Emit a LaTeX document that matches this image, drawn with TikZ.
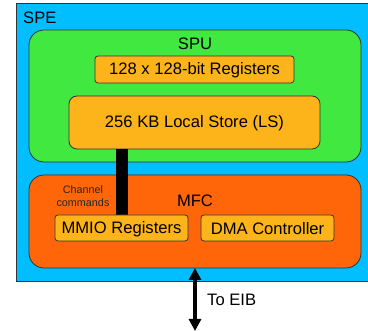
\documentclass[tikz,border=0pt]{standalone}
\usepackage{fontspec}
\setmainfont{Liberation Sans}
\usetikzlibrary{arrows.meta}
\definecolor{speblue}{RGB}{0,190,255}
\definecolor{spugreen}{RGB}{64,232,64}
\definecolor{amber}{RGB}{253,180,26}
\definecolor{mfcorange}{RGB}{255,102,10}
\tikzset{
  bigbox/.style={draw=black!80, line width=0.8pt, rounded corners=15pt},
  smallbox/.style={draw=black!80, line width=0.8pt, fill=amber},
  lbl/.style={font=\fontsize{16.6}{19}\selectfont, inner sep=0pt},
}
\begin{document}
\begin{tikzpicture}[x=1pt,y=-1pt]
\useasboundingbox (0,0) rectangle (368,331);
% SPE
\path[fill=speblue] (16,3) rectangle (372,281);
\draw[line width=0.9pt, black!80] (372,3) -- (16,3) -- (16,281) -- (372,281);
\node[lbl, anchor=west] (spe) at (23,18) {SPE};
% SPU
\draw[bigbox, fill=spugreen] (29,30) rectangle (361,162);
\node[lbl] (spu) at (195,44) {SPU};
\draw[smallbox, rounded corners=3pt] (95,56) rectangle (294,83);
\node[lbl] (regs) at (194.5,70) {128 x 128-bit Registers};
\draw[smallbox, rounded corners=8pt] (69,96) rectangle (320,149);
\node[lbl] (ls) at (194.5,123) {256 KB Local Store (LS)};
% MFC
\draw[bigbox, fill=mfcorange] (29,175) rectangle (361,268);
\node[lbl] (mfc) at (195,201) {MFC};
\node[font=\fontsize{10.8}{13.5}\selectfont, align=center, inner sep=0pt, text=black!85] (chan) at (83,196) {Channel\\commands};
% bar
\fill[black] (116,149) rectangle (128,215);
\draw[smallbox, rounded corners=3pt] (55,215) rectangle (188,241);
\node[lbl] (mmio) at (121.5,229) {MMIO Registers};
\draw[smallbox, rounded corners=3pt] (201,215) rectangle (334,241);
\node[lbl] (dma) at (267.5,229) {DMA Controller};
% arrow
\coordinate (atop) at (195,268);
\coordinate (abot) at (195,331);
\draw[line width=4.5pt, {Triangle[length=12pt,width=12pt]}-{Triangle[length=12pt,width=12pt]}] (atop) -- (abot);
\node[lbl, anchor=west] (eib) at (207,300) {To EIB};
\end{tikzpicture}
\end{document}
